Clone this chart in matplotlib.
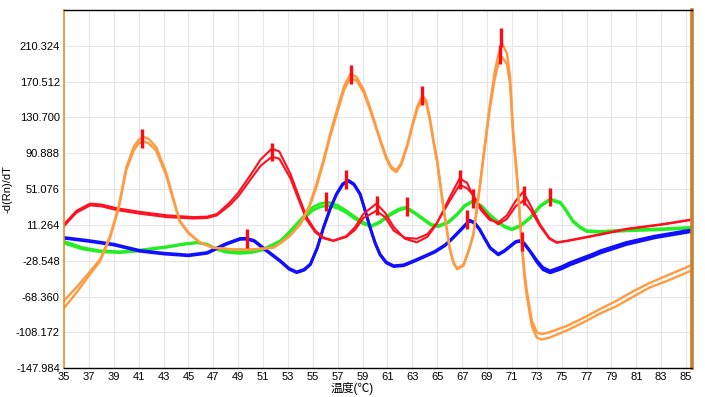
import matplotlib

matplotlib.use("Agg")
import matplotlib.pyplot as plt

plt.rcParams["font.family"] = ["Liberation Sans", "Noto Sans CJK SC", "DejaVu Sans"]

# melt curves: temperature (C) vs -d(Rn)/dT
orange_a_x = [35, 36, 37, 37.9, 38.7, 39.4, 40.0, 40.6, 41.0, 41.4, 41.8, 42.4, 43.2, 43.8,
              44.3, 45.0, 45.9, 47.0, 48.6, 50.0, 51.0, 51.8, 52.5, 53.2, 54.0, 54.7, 55.3,
              55.9, 56.4, 57.0, 57.5, 58.0, 58.5, 59.1, 59.6, 60.1, 60.5, 60.9, 61.3, 61.7,
              62.1, 62.6, 63.0, 63.4, 63.8, 64.1, 64.4, 64.7, 65.0, 65.5, 66.0, 66.3, 66.6,
              67.1, 67.5, 67.9, 68.4, 68.8, 69.2, 69.6, 69.9, 70.2, 70.6, 70.85, 71.1, 71.45,
              71.7, 72.0, 72.2, 72.6, 73.0, 73.4, 74.0, 75.4, 76.75, 78.1, 79.4, 80.8, 82.1,
              83.45, 85.5]
orange_a_y = [-73, -58, -42, -27, -1, 32, 75, 98, 106, 109, 107, 98, 70, 40,
              16, 3, -8, -14, -16, -16, -15, -14, -8, 0, 13, 32, 57,
              86, 113, 142, 165, 179, 176, 161, 142, 120, 103, 87, 76, 72,
              80, 101, 123, 143, 155, 150, 131, 105, 83, 31, -14, -30, -37,
              -33, -18, 1, 53, 98, 142, 180, 200, 213, 202, 176, 116, 61,
              9, -40, -62, -95, -108, -110, -108, -101, -92, -82, -73, -62, -53,
              -45, -33]
orange_b_x = orange_a_x
orange_b_y = [-81, -64, -45, -29, -3, 30, 72, 94, 102, 104, 102, 94, 67, 38,
              15, 2, -8, -14, -16, -16, -15, -14, -8, 0, 12, 30, 54,
              83, 110, 138, 161, 174, 172, 158, 139, 118, 101, 85, 74, 70,
              78, 99, 121, 140, 151, 147, 128, 103, 80, 29, -15, -31, -38,
              -34, -19, 0, 51, 95, 138, 172, 190, 198, 190, 168, 110, 56,
              4, -46, -68, -101, -114, -116, -114, -106, -97, -87, -79, -68, -58,
              -51, -39]

red_x = [35, 36, 37.1, 38, 39.2, 41, 43.25, 45.4, 46.5, 47.3, 48.3, 49.0, 50.0, 50.8, 51.7,
         52.3, 53.2, 53.9, 54.5, 55.2, 55.85, 56.65, 57.7, 58.4, 59.06, 60.1, 60.8, 61.5,
         62.4, 63.35, 64.2, 64.94, 66.0, 66.8, 67.4, 67.8, 68.5, 69.2, 69.9, 70.6, 71.3,
         71.9, 72.5, 73.26, 74.0, 74.6, 75.5, 77, 78.1, 80.2, 83, 85.5]
red_a_y = [12, 27, 35, 34, 30, 26, 22, 20, 20.5, 23.5, 36, 47, 67, 84, 96,
           93, 68, 42, 20, 5, -2.6, -6, -1, 9, 23.5, 35, 25, 9,
           -4, -8, -2, 12, 42, 63, 58, 46, 28, 17, 14, 22, 38,
           48, 33, 12, -3, -8, -6, -2, 1, 7, 12, 17.5]
red_b_y = [10, 25, 33, 32, 28, 24, 20, 18.5, 19, 22, 33, 43, 62, 77, 87,
           85, 63, 38, 17, 3, -3.5, -6.5, -2, 6, 19, 27, 20, 5,
           -3, -4, 1, 13, 38, 56, 52, 46, 31, 19, 12, 18, 32,
           38, 28, 10, -4, -8.5, -6.5, -2.5, 0.5, 6.5, 11.5, 17]

blue_x = [35, 37, 39, 41.1, 43, 45, 46.5, 48.05, 49.15, 49.7, 50.3, 51.0, 52.4, 53.1, 53.7,
          54.3, 54.8, 55.35, 55.85, 56.4, 56.9, 57.4, 57.85, 58.3, 58.8, 59.2, 59.6, 60.0,
          60.4, 60.9, 61.5, 62.3, 63.1, 64.0, 64.8, 65.6, 66.3, 67.0, 67.6, 68.0, 68.4,
          68.8, 69.25, 69.9, 70.4, 70.85, 71.3, 71.65, 72.0, 72.46, 73.0, 73.5, 74.07, 75.0,
          75.7, 77.5, 78.1, 80.2, 82.5, 85.5]
blue_a_y = [-2.6, -6, -10, -17, -20, -22, -19.3, -9.2, -3.7, -3.5, -6, -13.7, -28.5, -37, -40.8,
            -38, -32, -14, 8.6, 30, 46, 57, 61, 57, 46, 28, 9, -8,
            -21, -30, -34, -33, -28.5, -23, -18, -11, -2, 8, 16.8, 14, 7,
            -3, -13.7, -21, -17, -12, -7, -6, -9, -17.4, -28, -36, -39.7, -35,
            -30.4, -21, -17.4, -8.1, -1, 6]
blue_b_y = [-3.5, -7, -11, -18, -21, -23, -20.3, -10.2, -4.7, -4.5, -7, -14.7, -29.5, -38, -41.8,
            -39, -33, -15, 7.6, 29, 45, 56, 60, 56, 45, 27, 8, -9,
            -22, -31, -35, -34, -29.5, -24, -19, -12, -3, 7, 15.8, 13, 6,
            -4, -14.7, -22, -18, -13, -8, -7, -10, -18.4, -30, -38.5, -42, -37.5,
            -33, -23.5, -20, -10.5, -3, 4]

green_x = [35, 36.5, 37.9, 39.5, 41.1, 43.25, 44.5, 45.7, 46.5, 47, 48.0, 49.1, 50.0, 51,
           51.7, 52.4, 53.0, 53.7, 54.4, 55.0, 55.6, 56.25, 57.0, 57.7, 58.4, 59.06, 59.7,
           60.4, 61.2, 61.9, 62.5, 63.2, 63.9, 64.5, 65.1, 65.9, 66.6, 67.2, 67.9, 68.6,
           69.2, 69.8, 70.4, 71.0, 71.7, 72.46, 73.3, 74.07, 74.9, 75.4, 75.9, 76.5, 77.0,
           78.1, 80.2, 83, 85.5]
green_a_y = [-7, -14, -17.4, -18.5, -16.6, -12.9, -10, -8, -10, -13.7, -18, -19.3, -18.5, -15.5,
             -11, -6.2, 2, 12.4, 23, 31, 35, 36.5, 33, 27, 20, 14.2, 10.5,
             15, 23.5, 29, 31, 25, 18, 12, 10.5, 15, 23.5, 33, 38.4, 32,
             23, 16, 10, 6.8, 11, 19.7, 33, 40.2, 36.5, 27, 16, 9, 5,
             4.1, 5.7, 7, 8.6]
green_b_y = [-9, -15.5, -18.5, -19.5, -17.5, -13.5, -10.5, -8.5, -10.5, -14.5, -19, -20.3, -19.5, -16.5,
             -12, -7.2, 0, 10, 20, 27.5, 31.5, 32.8, 30, 25, 18, 12.5, 9.5,
             14, 22, 27.5, 30, 24, 17, 11, 9.5, 14, 22.5, 32, 37.5, 31,
             22, 15, 9, 6, 10, 18.7, 32, 39, 35.5, 26, 15, 8, 4,
             3.1, 4.7, 6, 7.6]

# red peak markers
peak_x = [41.3, 49.73, 51.7, 56.06, 57.67, 58.05, 60.14, 62.55, 63.75, 66.83, 67.37, 67.9,
          70.1, 70.05, 71.98, 71.8, 74.07]
peak_y = [107.5, -4.0, 92.4, 36.9, 61.8, 178.8, 32.8, 32.2, 155.4, 61.8, 17.7, 40.2,
          219.5, 201.1, 43.9, -6.8, 42.3]

x_ticks = list(range(35, 86, 2))
y_ticks = [-147.984, -108.172, -68.360, -28.548, 11.264, 51.076, 90.888, 130.700, 170.512, 210.324]
y_top = 250.136

fig = plt.figure(figsize=(7.05, 3.97), dpi=100)
ax = fig.add_axes([64 / 705, 1 - 368.3 / 397, 627.7 / 705, 358.3 / 397])

ax.plot(green_x, green_b_y, color="#22ee22", lw=2.0)
ax.plot(green_x, green_a_y, color="#22ee22", lw=2.0)
ax.plot(blue_x, blue_b_y, color="#1010ff", lw=2.0)
ax.plot(blue_x, blue_a_y, color="#1010ff", lw=2.0)
ax.plot(red_x, red_b_y, color="#ff1020", lw=1.5)
ax.plot(red_x, red_a_y, color="#ff1020", lw=1.5)
ax.plot(orange_b_x, orange_b_y, color="#ff9a40", lw=1.7)
ax.plot(orange_a_x, orange_a_y, color="#ff9a40", lw=1.7)

ax.vlines(peak_x, [y - 10.5 for y in peak_y], [y + 10.5 for y in peak_y],
          color="#ff0a14", lw=2.4, zorder=5)

ax.set_xlim(35, 85.45)
ax.set_ylim(y_ticks[0], y_top)
ax.set_xticks(x_ticks)
ax.set_yticks(y_ticks)
ax.set_yticklabels([f"{v:.3f}" for v in y_ticks])
ax.tick_params(length=0, pad=3, labelsize=8)
ax.grid(True, color="#e6e6e6", lw=0.8)
ax.set_axisbelow(True)

for side in ("top", "bottom"):
    ax.spines[side].set_color("black")
    ax.spines[side].set_linewidth(1.0)
ax.spines["left"].set_color("#e8902a")
ax.spines["left"].set_linewidth(1.2)
ax.spines["right"].set_color("#c8802a")
ax.spines["right"].set_linewidth(2.6)

fig.text(8 / 705, 1 - 189 / 397, "-d(Rn)/dT", fontsize=8, rotation=90,
         ha="center", va="center")
fig.text(352 / 705, 1 - 388 / 397, "温度(℃)", fontsize=8.5, ha="center", va="center")

fig.savefig("out.png", dpi=100)
